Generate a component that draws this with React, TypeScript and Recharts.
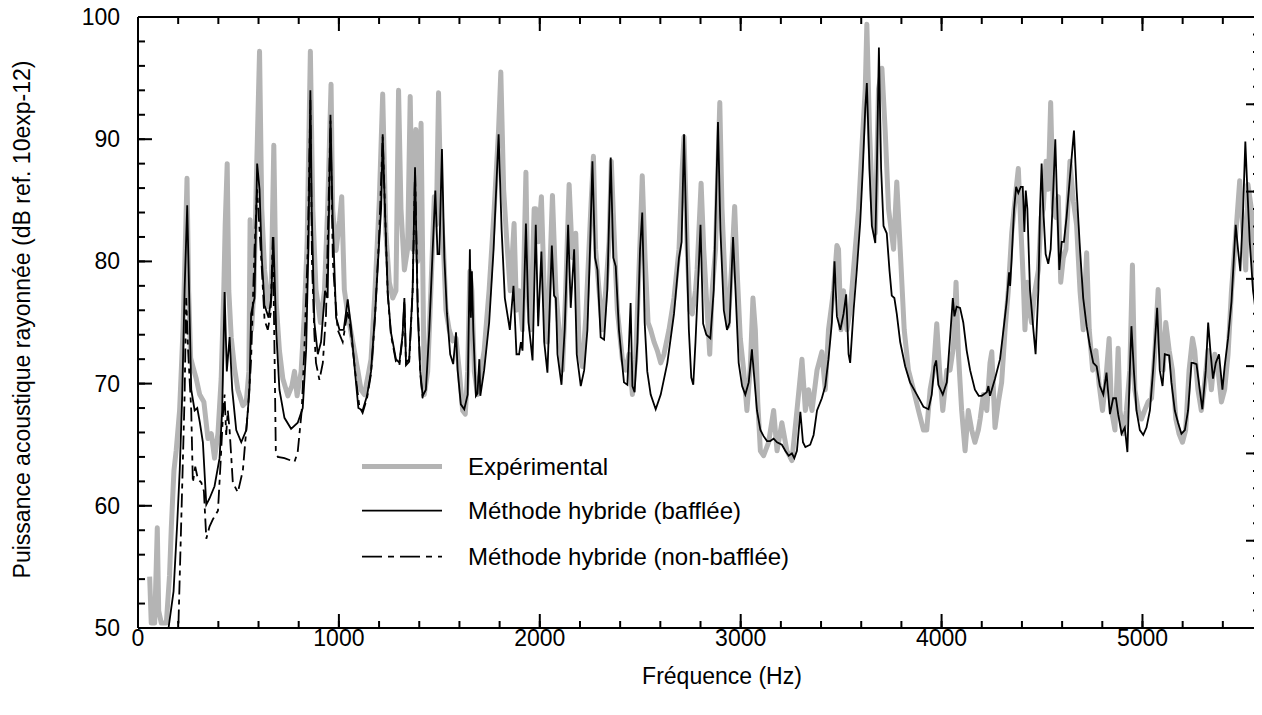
import React from 'react';
import { LineChart, Line, XAxis, YAxis, Legend } from 'recharts';

const FONT = '"Liberation Sans", Arial, Helvetica, sans-serif';

const X_TITLE = 'Fréquence (Hz)';
const Y_TITLE = 'Puissance acoustique rayonnée (dB ref. 10exp-12)';
const SERIES_NAMES = ['Expérimental', 'Méthode hybride (bafflée)', 'Méthode hybride (non-bafflée)'];

const xTicks = [0, 200, 400, 600, 800, 1000, 1200, 1400, 1600, 1800, 2000, 2200, 2400, 2600, 2800,
  3000, 3200, 3400, 3600, 3800, 4000, 4200, 4400, 4600, 4800, 5000, 5200, 5400];
const xLabels = [0, 1000, 2000, 3000, 4000, 5000];
const yTicks = [50, 52, 54, 56, 58, 60, 62, 64, 66, 68, 70, 72, 74, 76, 78, 80, 82, 84, 86, 88, 90,
  92, 94, 96, 98, 100];
const yLabels = [50, 60, 70, 80, 90, 100];
// right-hand frame: unlabelled, 7 major divisions of 5
const rightTicks = Array.from({ length: 36 }, (_, i) => i);

// [frequency (Hz), level (dB)]
const experimental: [number, number][] = [
  [58, 54.2], [66, 50.4], [83, 50.4], [96, 58.2], [103, 51.4], [116, 50.4], [141, 50.4], [157, 54.3],
  [166, 58.3], [179, 62.9], [190, 64.5], [207, 67.8], [224, 74.4], [235, 81], [244, 86.8], [252, 77.6],
  [262, 72.1], [273, 71.4], [290, 70.4], [307, 69.1], [328, 68.5], [348, 65.5], [365, 65.9], [381, 63.9],
  [398, 65.9], [414, 70.4], [427, 77.6], [434, 83], [444, 88], [452, 77.6], [464, 73.8], [481, 71.2],
  [497, 69.5], [522, 68.2], [539, 68.5], [552, 71], [558, 83.4], [565, 74.4], [577, 77.6], [588, 85.9],
  [605, 97.2], [616, 84.3], [630, 79.3], [650, 76.3], [663, 77.6], [676, 89.5], [688, 76.6], [704, 72.7],
  [721, 70.4], [746, 69], [766, 69.8], [779, 71], [792, 69], [812, 71], [828, 75.7], [842, 81.6],
  [848, 87.6], [858, 97.2], [870, 84.3], [886, 77.7], [908, 75], [928, 77.6], [944, 84.3], [961, 94.5],
  [969, 84.3], [986, 80.9], [1003, 83.3], [1014, 85.3], [1027, 77.7], [1044, 75.7], [1069, 73.4],
  [1094, 71.1], [1110, 69.5], [1127, 69.1], [1147, 70.8], [1160, 72], [1180, 77.7], [1201, 84.9],
  [1218, 93.7], [1234, 82.3], [1251, 78.3], [1268, 77], [1284, 77.6], [1297, 94], [1309, 84.3],
  [1326, 79.3], [1342, 81], [1355, 93.5], [1367, 81], [1383, 90.8], [1392, 80], [1409, 91.3],
  [1425, 69.1], [1442, 71], [1458, 77.7], [1475, 85.3], [1485, 83], [1496, 93.8], [1508, 84.3],
  [1521, 81], [1533, 76], [1549, 74.4], [1566, 73.5], [1583, 73.7], [1599, 71.1], [1616, 67.8],
  [1629, 67.5], [1641, 71], [1652, 79.2], [1662, 77.6], [1674, 71], [1690, 69.1], [1707, 71],
  [1723, 72.7], [1748, 77.7], [1773, 84.3], [1795, 90.8], [1806, 95.5], [1820, 85.9], [1836, 81.6],
  [1853, 77.6], [1872, 83.1], [1884, 76], [1897, 77.6], [1914, 74.4], [1931, 87.3], [1940, 77.6],
  [1955, 74.4], [1972, 84.3], [1980, 84.3], [1992, 81.6], [2008, 85.3], [2022, 77.6], [2038, 73.4],
  [2063, 85.4], [2080, 77.6], [2096, 74.4], [2113, 71.1], [2129, 77.6], [2146, 86.3], [2162, 80.3],
  [2179, 82.3], [2196, 72.7], [2212, 71.4], [2229, 75.4], [2254, 84.3], [2267, 88.6], [2278, 81],
  [2295, 77.6], [2312, 74.4], [2328, 77.6], [2345, 81.6], [2356, 88.2], [2369, 82.6], [2386, 76],
  [2411, 72], [2428, 71.1], [2444, 72.4], [2461, 69.1], [2477, 72], [2499, 81.6], [2510, 87],
  [2524, 80.3], [2539, 75], [2552, 74.4], [2569, 73.4], [2585, 72.7], [2602, 71.7], [2618, 72.4],
  [2643, 74.4], [2668, 77], [2693, 81], [2709, 87.6], [2718, 90.2], [2734, 81], [2747, 76],
  [2759, 75.7], [2775, 77.6], [2783, 79.3], [2803, 86.4], [2816, 81], [2833, 76], [2846, 72.4],
  [2858, 77.6], [2875, 81], [2896, 93], [2907, 84.3], [2924, 77.6], [2937, 74.7], [2954, 79.3],
  [2970, 84.5], [2982, 79.3], [2998, 73.7], [3015, 71.1], [3031, 67.8], [3048, 71.4], [3061, 77],
  [3073, 74.4], [3085, 68.5], [3098, 64.5], [3114, 64.1], [3139, 65.2], [3164, 67.8], [3181, 64.5],
  [3205, 66.8], [3230, 64.5], [3255, 63.7], [3280, 67.8], [3305, 72], [3322, 67.8], [3338, 69.5],
  [3355, 67.8], [3380, 71.1], [3404, 72.6], [3421, 69.5], [3437, 74.4], [3462, 77.6], [3479, 81.3],
  [3487, 81], [3499, 74.4], [3512, 77.6], [3529, 74.4], [3545, 76], [3570, 81], [3587, 84.3],
  [3603, 89.2], [3620, 94.1], [3628, 99.4], [3641, 90.8], [3657, 84.3], [3670, 82.3], [3686, 94.1],
  [3703, 95.8], [3719, 90.8], [3736, 84.3], [3761, 81], [3777, 86.5], [3794, 81], [3814, 74.4],
  [3835, 71.1], [3860, 69.5], [3885, 67.8], [3910, 66.2], [3926, 66.2], [3943, 69.5], [3960, 71.1],
  [3976, 74.9], [3990, 71.1], [4006, 67.8], [4026, 71.1], [4042, 71.1], [4059, 73], [4072, 78.3],
  [4084, 72.4], [4100, 67.8], [4117, 64.5], [4133, 67.8], [4150, 66.2], [4166, 65.2], [4183, 66.2],
  [4192, 67.1], [4208, 69.1], [4225, 67.8], [4241, 71.7], [4250, 72.6], [4266, 66.4], [4283, 68.5],
  [4299, 70.1], [4316, 74.4], [4332, 77.6], [4349, 82.3], [4371, 85.9], [4382, 87.6], [4394, 83],
  [4407, 78.3], [4415, 74.4], [4427, 78.3], [4437, 76], [4448, 75], [4465, 77.6], [4482, 79.3],
  [4495, 83.6], [4506, 84.3], [4520, 88.2], [4531, 85.9], [4543, 93], [4556, 84.3], [4569, 83.6],
  [4581, 85.3], [4593, 78.3], [4606, 80.3], [4619, 81], [4639, 88.2], [4656, 84.9], [4672, 83],
  [4689, 77.6], [4705, 74.4], [4722, 80.7], [4735, 74.4], [4752, 71.1], [4768, 72.7], [4785, 69.8],
  [4801, 67.8], [4818, 70.4], [4834, 73.7], [4846, 67.8], [4863, 66.2], [4879, 72.9], [4888, 67.8],
  [4904, 65.9], [4920, 67.8], [4937, 71.1], [4950, 79.7], [4962, 69.5], [4979, 67.8], [4995, 67.1],
  [5011, 67.8], [5028, 68.5], [5045, 68.8], [5062, 72.7], [5078, 77.7], [5087, 74.4], [5103, 71.1],
  [5116, 75], [5133, 72.7], [5149, 71.1], [5166, 67.1], [5182, 65.9], [5199, 65.2], [5215, 66.2],
  [5232, 71.1], [5249, 73.7], [5260, 72.7], [5276, 69.5], [5293, 67.8], [5310, 70.1], [5326, 72.7],
  [5343, 69.5], [5360, 72.4], [5376, 71.1], [5393, 68.5], [5409, 69.5], [5426, 72.4], [5443, 77.6],
  [5459, 81], [5484, 86.6], [5501, 82.3], [5514, 79.3], [5525, 86.3], [5542, 84.3], [5558, 77.6],
  [5580, 76],
];

const baffled: [number, number][] = [
  [145, 48.5], [152, 50], [177, 53], [195, 58.5], [208, 63], [220, 69], [232, 77.7], [245, 84.6],
  [265, 69.5], [282, 67.8], [295, 68], [308, 66.8], [323, 65.2], [340, 60.1], [356, 60.6], [381, 61.6],
  [406, 63.9], [419, 67.8], [431, 77.5], [442, 71], [456, 73.8], [469, 69.5], [489, 66.2], [514, 65.2],
  [539, 66.2], [555, 69.5], [563, 75.7], [580, 77], [593, 88], [605, 85.9], [616, 80.3], [630, 76.4],
  [650, 75.4], [663, 77], [674, 82], [688, 74.3], [704, 69.5], [729, 67.2], [762, 66.3], [795, 66.8],
  [820, 68], [837, 72.8], [848, 81], [858, 94], [865, 84], [878, 75], [895, 72.4], [911, 73.4],
  [931, 77.6], [944, 77], [958, 92], [969, 83.6], [986, 75.4], [1003, 74.4], [1024, 74.4], [1044, 76.9],
  [1060, 74.7], [1080, 71], [1097, 68], [1118, 67.8], [1140, 69], [1160, 71], [1180, 75.7],
  [1193, 79.5], [1210, 84.3], [1218, 90.4], [1229, 84.3], [1243, 77.5], [1259, 74.2], [1284, 72],
  [1301, 71.7], [1317, 74], [1326, 77], [1334, 71.7], [1350, 72], [1367, 77.7], [1379, 87.7],
  [1392, 76], [1405, 71], [1417, 69], [1433, 69.5], [1450, 74.4], [1467, 81], [1480, 85.8],
  [1491, 80.6], [1500, 80.6], [1513, 89.2], [1525, 80.3], [1538, 75.7], [1554, 72.4], [1569, 71.6],
  [1583, 74.2], [1591, 71.1], [1607, 68.3], [1624, 67.9], [1641, 69.1], [1652, 81], [1657, 75.4],
  [1662, 79.2], [1669, 74.4], [1682, 69], [1690, 69.2], [1699, 72], [1704, 69], [1723, 71.1],
  [1748, 75], [1770, 81], [1795, 90.4], [1810, 82.6], [1826, 77], [1851, 74.4], [1869, 78],
  [1884, 72.4], [1897, 72.4], [1906, 73.4], [1914, 72.7], [1931, 83.1], [1944, 75], [1964, 71.9],
  [1980, 83], [1992, 74.7], [2008, 80.8], [2022, 73.4], [2038, 70.9], [2060, 81.3], [2071, 77.2],
  [2080, 77], [2088, 72.4], [2108, 69.9], [2124, 74.4], [2141, 83], [2154, 76.2], [2171, 81],
  [2184, 72.4], [2204, 69.8], [2221, 71.1], [2237, 74.4], [2250, 81], [2262, 88.2], [2275, 80.3],
  [2287, 79.3], [2303, 73.8], [2320, 73.6], [2336, 77.7], [2353, 88.5], [2366, 80.3], [2378, 79.6],
  [2394, 74.4], [2419, 70.1], [2436, 69.9], [2452, 76.6], [2461, 69.8], [2472, 69.3], [2486, 73.4],
  [2499, 81], [2510, 84], [2522, 75], [2535, 71], [2552, 69.1], [2577, 67.9], [2602, 69.1],
  [2635, 71.7], [2668, 75.7], [2693, 80.3], [2706, 81.6], [2718, 90.4], [2731, 81], [2742, 74.4],
  [2754, 70.5], [2764, 69.9], [2775, 73.4], [2790, 79], [2800, 83], [2813, 74.9], [2829, 74],
  [2849, 73.7], [2866, 77.7], [2887, 91.4], [2899, 82.6], [2916, 76], [2932, 74.4], [2945, 75],
  [2962, 82], [2974, 77.7], [2990, 71.7], [3007, 69.8], [3023, 69.1], [3040, 70.1], [3056, 72.8],
  [3068, 70.4], [3081, 67.8], [3098, 66.2], [3114, 65.7], [3131, 65.3], [3147, 65.3], [3164, 65.5],
  [3181, 65.2], [3205, 65], [3222, 64.5], [3239, 64.1], [3255, 64.3], [3267, 63.9], [3280, 64.5],
  [3297, 67.7], [3310, 65.2], [3322, 64.8], [3346, 65], [3363, 65.8], [3380, 67.8], [3404, 68.8],
  [3421, 69.8], [3437, 72], [3454, 75], [3467, 80], [3479, 75.5], [3496, 74.4], [3512, 75.7],
  [3525, 77.3], [3537, 72.4], [3545, 71.7], [3562, 76], [3578, 79.3], [3595, 83.2], [3608, 87.6],
  [3620, 92.5], [3628, 94.6], [3641, 87.6], [3653, 82.9], [3670, 81.5], [3678, 87.6], [3688, 97.5],
  [3699, 87.6], [3711, 82.9], [3727, 82.3], [3741, 79.2], [3752, 77.2], [3765, 77], [3777, 75.7],
  [3794, 73.4], [3819, 71.4], [3843, 70.1], [3877, 69.1], [3910, 68.1], [3935, 67.9], [3951, 69.1],
  [3964, 71.4], [3973, 71.9], [3984, 69.9], [4006, 69.1], [4026, 70.1], [4042, 73.7], [4056, 77],
  [4064, 75.5], [4075, 76.3], [4092, 76.2], [4108, 75], [4125, 72.7], [4142, 71.1], [4166, 69.5],
  [4185, 69], [4200, 69], [4225, 69.3], [4233, 69.8], [4241, 69], [4266, 70.4], [4291, 72],
  [4308, 74.4], [4324, 76.7], [4336, 79.1], [4341, 78], [4349, 80.3], [4361, 84.3], [4371, 86.1],
  [4382, 85.6], [4394, 86.1], [4404, 86.1], [4412, 82.4], [4419, 85.8], [4427, 84.3], [4440, 77.7],
  [4457, 74.4], [4468, 72.4], [4482, 77.7], [4490, 84.3], [4498, 88], [4506, 84.3], [4518, 80.6],
  [4531, 79.8], [4543, 81], [4556, 85.9], [4566, 90], [4576, 84.3], [4586, 79.3], [4598, 81.6],
  [4609, 81.6], [4622, 83.6], [4639, 86.9], [4659, 90.7], [4672, 85.9], [4689, 81], [4705, 77],
  [4722, 74.7], [4738, 73.1], [4755, 71.7], [4772, 71.4], [4788, 69.8], [4805, 69.1], [4821, 70.9],
  [4838, 67.5], [4854, 68.8], [4868, 68.8], [4879, 67.5], [4896, 65.9], [4912, 66.4], [4925, 64.4],
  [4937, 71.1], [4945, 74.7], [4957, 71.1], [4970, 67.8], [4987, 66.2], [5004, 65.8], [5020, 66.4],
  [5037, 67.8], [5053, 71.1], [5073, 76.2], [5086, 71.1], [5100, 69.8], [5111, 72.4], [5133, 72.3],
  [5144, 70.1], [5161, 67.8], [5177, 66.8], [5194, 65.9], [5211, 66.2], [5227, 67.8], [5244, 71.7],
  [5252, 71.7], [5269, 71.6], [5285, 69.5], [5298, 67.9], [5315, 71.1], [5327, 75], [5338, 72.7],
  [5351, 70.4], [5365, 71.7], [5381, 72.4], [5398, 69.5], [5409, 71.4], [5426, 73.7], [5443, 76.7],
  [5464, 83], [5476, 80.9], [5487, 79.2], [5501, 84.3], [5512, 89.8], [5522, 85.9], [5534, 81.6],
  [5550, 77.7], [5567, 75.4], [5585, 75.5],
];

const nonBaffled: [number, number][] = [
  [196, 48], [200, 49.5], [219, 61], [232, 69], [240, 77], [249, 72.8], [265, 67.8], [273, 61.9],
  [285, 63.2], [298, 62.2], [315, 61.9], [328, 61.2], [340, 57.3], [356, 58.3], [373, 58.9],
  [398, 59.6], [411, 63.5], [423, 67.5], [431, 69.1], [439, 65.8], [447, 67.8], [456, 66.2],
  [472, 61.9], [497, 61.1], [522, 62.9], [547, 67.8], [563, 72], [580, 81], [593, 85.9], [605, 82.6],
  [616, 79.5], [630, 75.2], [646, 74.4], [660, 75.7], [671, 82], [680, 72], [686, 64.5], [696, 64],
  [729, 63.9], [762, 63.7], [779, 63.6], [795, 64.4], [815, 67.8], [828, 72.8], [845, 81], [858, 93.2],
  [866, 80], [878, 74], [886, 71.7], [903, 70.3], [920, 71.7], [936, 75.7], [958, 91.5], [970, 80],
  [978, 77.9], [994, 74.4], [1019, 73.4], [1044, 76], [1060, 74.2], [1085, 70.4], [1102, 68.1],
  [1118, 67.6], [1140, 68.8], [1160, 70.8], [1180, 75.5], [1200, 82], [1218, 90.2], [1230, 84],
  [1243, 77.3], [1259, 74], [1284, 71.8], [1301, 71.5], [1317, 73.8], [1326, 76.8], [1334, 71.5],
  [1350, 71.8], [1367, 77.5], [1379, 87.5], [1392, 76.8], [1405, 70.8], [1417, 68.8],
];

const toRows = (s: [number, number][]) => s.map(([f, v]) => ({ f, v }));
const expData = toRows(experimental);
const bafData = toRows(baffled);
const nbData = toRows(nonBaffled);

const X_DOMAIN: [number, number] = [0, 5585];
const Y_DOMAIN: [number, number] = [50, 100];
const GRAY = '#b4b4b4';
const DASH = '14 5 5 5';
const MINOR = 7;
const MAJOR = 14;
const tickLineStyle = { stroke: '#000', strokeWidth: 2 };
const axisLineStyle = { stroke: '#000', strokeWidth: 2 };

// Mirrored axes draw the frame and the inward ticks (short ones via tickLine).
// With tickMargin 0 the tick (x, y) sits MINOR px inside the frame; majors get lengthened here.
const ext = (dx: number, dy: number, every: number) => (props: any) => {
  const { x, y, payload } = props;
  if (payload.value % every !== 0) return <g />;
  const ax = x - dx * MINOR;
  const ay = y - dy * MINOR;
  return <line x1={ax} y1={ay} x2={ax + dx * MAJOR} y2={ay + dy * MAJOR} stroke="#000" strokeWidth={2} />;
};
const BottomExt = ext(0, -1, 1000);
const TopExt = ext(0, 1, 1000);
const LeftExt = ext(1, 0, 10);
const RightExt = ext(-1, 0, 5);

const BottomLabel = (props: any) => {
  const { x, y, payload } = props;
  return (
    <text x={x} y={y + 18} textAnchor="middle" fontSize={23} fontFamily={FONT} fill="#000">
      {payload.value}
    </text>
  );
};

const LeftLabel = (props: any) => {
  const { x, y, payload } = props;
  return (
    <text x={x - 18} y={y + 8} textAnchor="end" fontSize={23} fontFamily={FONT} fill="#000">
      {payload.value}
    </text>
  );
};

const XTitle = (props: any) => {
  const { viewBox } = props;
  return (
    <text x={722} y={viewBox.y + 56} textAnchor="middle" fontSize={23} fontFamily={FONT} fill="#000">
      {X_TITLE}
    </text>
  );
};

const YTitle = (props: any) => {
  const { viewBox } = props;
  const cx = 22;
  const cy = viewBox.y + viewBox.height / 2 - 3;
  return (
    <text x={cx} y={cy} transform={`rotate(-90, ${cx}, ${cy})`} textAnchor="middle"
      dominantBaseline="central" fontSize={23} fontFamily={FONT} fill="#000">
      {Y_TITLE}
    </text>
  );
};

const LegendBox = () => {
  const rows = [
    { name: SERIES_NAMES[0], color: GRAY, width: 5, dash: undefined },
    { name: SERIES_NAMES[1], color: '#000', width: 1.8, dash: undefined },
    { name: SERIES_NAMES[2], color: '#000', width: 1.8, dash: '20 6 6 6' },
  ];
  const rowY = [28.5, 72.7, 118.7];
  return (
    <svg width={480} height={150} style={{ display: 'block' }}>
      {rows.map((r, i) => (
        <g key={r.name}>
          <line x1={4} x2={84} y1={rowY[i]} y2={rowY[i]} stroke={r.color} strokeWidth={r.width}
            strokeDasharray={r.dash} />
          <text x={110} y={rowY[i]} dominantBaseline="central" fontSize={24} fontFamily={FONT} fill="#000">
            {r.name}
          </text>
        </g>
      ))}
    </svg>
  );
};

export default function App() {
  return (
    <div style={{ marginLeft: -8, marginTop: -8, width: 1262, height: 703 }}>
      <LineChart width={1262} height={703} margin={{ top: 17, right: 2, bottom: 0, left: 0 }}>
        {/* labelled axes (outside the frame) */}
        <XAxis dataKey="f" type="number" domain={X_DOMAIN} ticks={xLabels} interval={0}
          allowDataOverflow height={75} tickSize={0} tickMargin={0} tickLine={false} axisLine={false}
          tick={BottomLabel} label={XTitle} />
        <YAxis yAxisId="left" type="number" domain={Y_DOMAIN} ticks={yLabels} interval={0}
          allowDataOverflow width={138} tickSize={0} tickMargin={0} tickLine={false} axisLine={false}
          tick={LeftLabel} label={YTitle} />
        {/* mirrored frame axes with inward ticks */}
        <XAxis xAxisId="fb" orientation="bottom" mirror dataKey="f" type="number" domain={X_DOMAIN}
          ticks={xTicks} interval={0} allowDataOverflow height={20} tickSize={MINOR} tickMargin={0}
          tickLine={tickLineStyle} axisLine={axisLineStyle} tick={BottomExt} />
        <XAxis xAxisId="ft" orientation="top" mirror dataKey="f" type="number" domain={X_DOMAIN}
          ticks={xTicks} interval={0} allowDataOverflow height={20} tickSize={MINOR} tickMargin={0}
          tickLine={tickLineStyle} axisLine={axisLineStyle} tick={TopExt} />
        <YAxis yAxisId="fl" orientation="left" mirror type="number" domain={Y_DOMAIN}
          ticks={yTicks} interval={0} allowDataOverflow width={20} tickSize={MINOR} tickMargin={0}
          tickLine={tickLineStyle} axisLine={axisLineStyle} tick={LeftExt} />
        <YAxis yAxisId="fr" orientation="right" mirror type="number" domain={[0, 35]}
          ticks={rightTicks} interval={0} allowDataOverflow width={20} tickSize={MINOR} tickMargin={0}
          tickLine={tickLineStyle} axisLine={axisLineStyle} tick={RightExt} />
        <Legend layout="vertical" align="center" verticalAlign="middle"
          wrapperStyle={{ left: 358, top: 438, width: 480, height: 150 }} content={() => <LegendBox />} />
        <Line yAxisId="left" data={expData} dataKey="v" name={SERIES_NAMES[0]} type="linear"
          stroke={GRAY} strokeWidth={5} strokeLinejoin="round" dot={false} activeDot={false}
          isAnimationActive={false} />
        <Line yAxisId="left" data={bafData} dataKey="v" name={SERIES_NAMES[1]} type="linear"
          stroke="#000" strokeWidth={1.8} dot={false} activeDot={false} isAnimationActive={false} />
        <Line yAxisId="left" data={nbData} dataKey="v" name={SERIES_NAMES[2]} type="linear"
          stroke="#000" strokeWidth={1.8} strokeDasharray={DASH} dot={false} activeDot={false}
          isAnimationActive={false} />
      </LineChart>
    </div>
  );
}
